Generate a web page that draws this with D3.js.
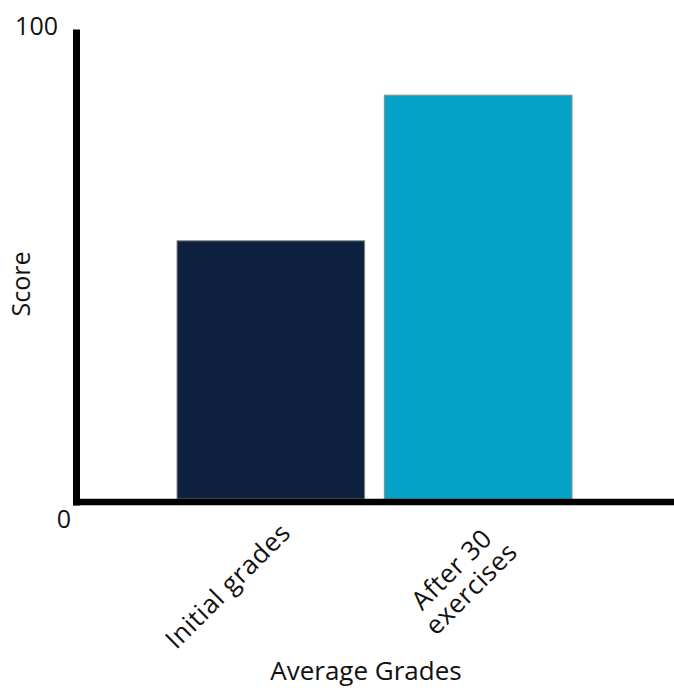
<!DOCTYPE html>
<html><head><meta charset="utf-8">
<script src="https://cdn.jsdelivr.net/npm/d3@7"></script>
<style>html,body{margin:0;padding:0;background:#fff;}svg{display:block;font-family:"Open Sans",sans-serif;}</style>
</head><body><svg id="c" width="674" height="688"></svg>
<script>
const categories = ["Initial grades", "After 30 exercises"];
const labelLines = [["Initial grades"], ["After 30", "exercises"]];
const values = [55, 86];
const yTicks = [0, 100];
const colors = ["#0e2240", "#05a3c7"];
const yTitle = "Score";
const xTitle = "Average Grades";

const svg = d3.select("#c");
const FS = 25;
const LFS = 26;
const x = d3.scaleBand().domain(categories).range([177, 572]).paddingInner(0.095).paddingOuter(0);
const y = d3.scaleLinear().domain([0, 100]).range([499, 29.5]);

// bars
svg.selectAll("rect.bar").data(values).enter().append("rect")
  .attr("x", (d, i) => x(categories[i]))
  .attr("y", d => y(d))
  .attr("width", x.bandwidth())
  .attr("height", d => y(0) - y(d))
  .attr("fill", (d, i) => colors[i])
  .attr("stroke", "#8a8a8a").attr("stroke-width", 1);

// axes lines
svg.append("line").attr("x1", 76.5).attr("x2", 76.5).attr("y1", y(100)).attr("y2", y(0) + 6.5)
  .attr("stroke", "#000").attr("stroke-width", 7);
svg.append("line").attr("x1", 73).attr("x2", 674).attr("y1", y(0) + 3).attr("y2", y(0) + 3)
  .attr("stroke", "#000").attr("stroke-width", 6.5);

// y tick labels
svg.selectAll("text.yt").data(yTicks).enter().append("text")
  .attr("text-anchor", "end")
  .attr("x", d => d === 0 ? 71 : 58)
  .attr("y", d => d === 0 ? y(d) + 29 : y(d) + 5)
  .attr("font-size", FS).attr("fill", "#111")
  .text(d => d);

// x tick labels
categories.forEach((c, i) => {
  const cx = x(c) + x.bandwidth() / 2;
  const g = svg.append("g").attr("transform", `translate(${cx + 7},520) rotate(-45)`);
  const lines = labelLines[i];
  const ts = lines.map((l, j) => g.append("text").attr("font-size", LFS).attr("fill", "#111")
    .attr("letter-spacing", 0.6)
    .attr("text-anchor", "middle").attr("y", LFS * 0.78 + j * LFS * 1.05).text(l));
  const W = d3.max(ts, t => t.node().getComputedTextLength());
  ts.forEach(t => t.attr("x", -W / 2));
});

// titles
svg.append("text").attr("transform", `translate(30,${284}) rotate(-90)`)
  .attr("text-anchor", "middle").attr("font-size", FS).attr("fill", "#111").text(yTitle);
svg.append("text").attr("x", 366).attr("y", 680).attr("text-anchor", "middle")
  .attr("font-size", 26).attr("fill", "#111").text(xTitle);
</script></body></html>
